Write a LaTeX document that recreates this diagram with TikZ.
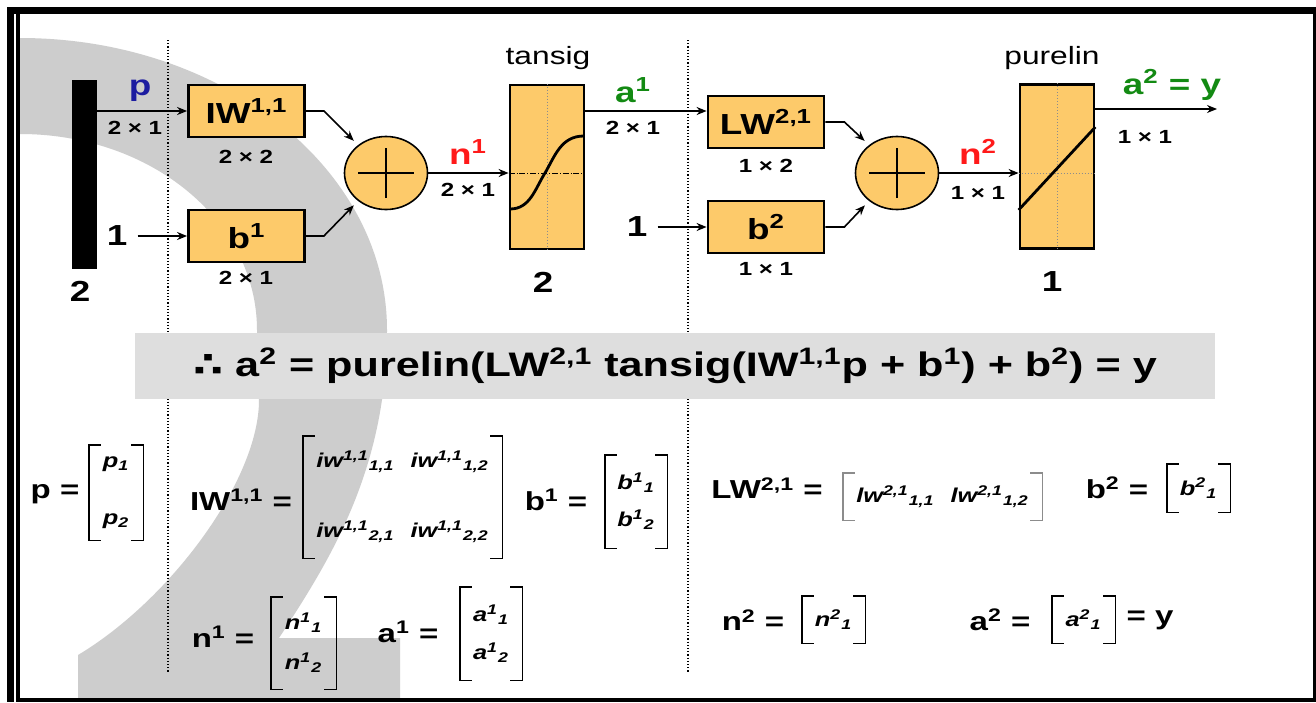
\documentclass[tikz,border=0pt]{standalone}
\usepackage{fontspec}
\setmainfont[FakeStretch=1.27]{Liberation Sans}
\newfontfamily\dejavu[FakeStretch=1.27]{DejaVu Sans}
\usepackage{tikz}
\usetikzlibrary{positioning,arrows.meta,calc,shapes.geometric}
\definecolor{boxgold}{HTML}{FDCA6A}
\definecolor{pblue}{HTML}{1C1CA0}
\definecolor{nred}{HTML}{FF1A1A}
\definecolor{agreen}{HTML}{138A13}
\definecolor{bandgray}{HTML}{DEDEDE}
\definecolor{wmgray}{HTML}{CDCDCD}
\tikzset{
    every node/.style={font=\bfseries},
    wbox/.style={draw,line width=1.4pt,fill=boxgold,minimum width=58pt,minimum height=26pt,inner sep=0pt,font=\bfseries\fontsize{14.5}{16}\selectfont},
    tfbox/.style={draw,line width=1.4pt,fill=boxgold,minimum width=37pt,minimum height=82pt,inner sep=0pt},
    sumnode/.style={ellipse,draw,line width=0.8pt,fill=boxgold,minimum width=41.5pt,minimum height=36.5pt,inner sep=0pt},
    dimlbl/.style={inner sep=0pt,font=\bfseries\fontsize{9.5}{11}\selectfont},
    siglbl/.style={inner sep=0pt,font=\bfseries\fontsize{14.5}{17}\selectfont},
    fnlbl/.style={inner sep=0pt,font=\fontsize{12.5}{15}\selectfont},
    eqlbl/.style={inner sep=0pt,font=\bfseries\fontsize{13}{15}\selectfont},
    mat/.style n args={3}{minimum width=#1,minimum height=#2,inner sep=0pt,align=center,font=\bfseries\itshape\fontsize{10}{#3}\selectfont},
    brk/.style={line width=0.9pt},
    arr/.style={-{Stealth[length=5pt,width=4pt]},line width=0.8pt},
    sep/.style={densely dotted,line width=0.6pt},
    guide/.style={densely dotted,line width=0.5pt,black!45}
}

\begin{document}
\begin{tikzpicture}[
x=0.5pt,y=-0.5pt,
band/.style={fill=bandgray,minimum width=540pt,minimum height=33pt,inner sep=0pt,font=\bfseries\fontsize{17}{20}\selectfont}
]
\useasboundingbox (0,0) rectangle (1316,702);
\fill[white] (0,0) rectangle (1316,702);
\fill[wmgray] (20,38) .. controls (223,38) and (387,169) .. (387,330)
    .. controls (387,470) and (330,560) .. (279,638) -- (400,638) -- (400,700) -- (78,700) -- (78,655)
    .. controls (170,600) and (259,480) .. (259,400) -- (257,330)
    .. controls (257,222) and (152,134) .. (20,134) -- cycle;
\draw[sep] (168,40) -- (168,672);
\draw[sep] (688,40) -- (688,672);

\node[fill=black,minimum width=12.5pt,minimum height=94.5pt,inner sep=0pt] (pin) at (84.5,174.5) {};
\node[siglbl] (pn) at (80,291) {2};
\node[siglbl,text=pblue] (plbl) at (140,91) {p};
\node[dimlbl] (pdim) at (135,128) {2 × 1};
\node[siglbl] (one1) at (117,236) {1};

\node[wbox] (iw) at (246.5,111) {IW\textsuperscript{1,1}};
\node[wbox] (b1) at (246.5,236) {b\textsuperscript{1}};
\node[dimlbl] (iwdim) at (246,157) {2 × 2};
\node[dimlbl] (b1dim) at (246,278) {2 × 1};
\node[sumnode] (sum1) at (386,173) {};
\node[siglbl,text=nred] (n1lbl) at (468,152) {n\textsuperscript{1}};
\node[dimlbl] (n1dim) at (468,190) {2 × 1};

\node[tfbox] (tansig) at (547,167) {};
\node[fnlbl] (tansiglbl) at (548,58) {tansig};
\node[siglbl] (tansign) at (543,282) {2};
\node[siglbl,text=agreen] (a1lbl) at (633,90) {a\textsuperscript{1}};
\node[dimlbl] (a1dim) at (633,128) {2 × 1};
\node[siglbl] (one2) at (637,227) {1};

\node[wbox] (lw) at (766,122) {LW\textsuperscript{2,1}};
\node[wbox] (b2) at (766,227) {b\textsuperscript{2}};
\node[dimlbl] (lwdim) at (766,166) {1 × 2};
\node[dimlbl] (b2dim) at (766,269) {1 × 1};
\node[sumnode] (sum2) at (897,173) {};
\node[siglbl,text=nred] (n2lbl) at (978,152) {n\textsuperscript{2}};
\node[dimlbl] (n2dim) at (978,193) {1 × 1};

\node[tfbox] (purelin) at (1057,166.5) {};
\node[fnlbl] (purelinlbl) at (1052,58) {purelin};
\node[siglbl] (purelinn) at (1052,282) {1};
\node[siglbl,text=agreen] (a2lbl) at (1172,85) {a\textsuperscript{2} = y};
\node[dimlbl] (a2dim) at (1145,137) {1 × 1};

\foreach \s in {sum1,sum2} {
    \draw[line width=1pt] ([xshift=-14pt]\s.center) -- ([xshift=14pt]\s.center);
    \draw[line width=1pt] ([yshift=-12.5pt]\s.center) -- ([yshift=12.5pt]\s.center);
}
\draw[guide] (tansig.north) -- (tansig.south);
\draw[densely dashdotted,line width=0.5pt] (tansig.west |- sum1.center) -- (tansig.east |- sum1.center);
\draw[guide] (purelin.north) -- (purelin.south);
\draw[guide] (purelin.west |- sum2.center) -- (purelin.east |- sum2.center);
\begin{scope}[shift={(tansig.center)}]
\draw[line width=1.4pt] (-37,42) .. controls (-17,42) and (-12,22) .. (-2,6) .. controls (8,-11) and (14,-31) .. (37,-31);
\end{scope}
\draw[line width=1.4pt] ([yshift=-21.75pt]purelin.west) -- ([yshift=19.75pt]purelin.east);

\coordinate (a1in) at ([yshift=5.5pt]lw.west);
\coordinate (yout) at (1217,109);
\draw[arr] (pin.east |- iw.west) -- (iw.west);
\draw[arr] ([xshift=5pt]one1.east) -- (b1.west);
\draw[arr,shorten >=3pt] (iw.east) -- ++(9pt,0) -- (sum1.135);
\draw[arr,shorten >=3pt] (b1.east) -- ++(9pt,0) -- (sum1.225);
\draw[arr] (sum1.east) -- (sum1.east -| tansig.west);
\draw[arr] (tansig.east |- a1in) -- (a1in);
\draw[arr] ([xshift=5pt]one2.east) -- (b2.west);
\draw[arr,shorten >=3pt] (lw.east) -- ++(9.5pt,0) -- (sum2.135);
\draw[arr,shorten >=3pt] (b2.east) -- ++(9.5pt,0) -- (sum2.225);
\draw[arr] (sum2.east) -- (sum2.east -| purelin.west);
\draw[arr] (purelin.east |- yout) -- (yout);

\node[band] (eqn) at (675,366) {{\dejavu ∴} a\textsuperscript{2} = purelin(LW\textsuperscript{2,1} tansig(IW\textsuperscript{1,1}p + b\textsuperscript{1}) + b\textsuperscript{2}) = y};

\node[eqlbl] (peq) at (55,494) {p =};
\node[mat={27pt}{47.5pt}{28.5pt}] (pmat) at (116,492.5) {p\textsubscript{1}\\p\textsubscript{2}};
\node[eqlbl] (iweq) at (241,500) {IW\textsuperscript{1,1} =};
\node[mat={99.5pt}{61pt}{35pt}] (iwmat) at (402.5,497) {iw\textsuperscript{1,1}\textsubscript{1,1}\hspace{8pt}iw\textsuperscript{1,1}\textsubscript{1,2}\\iw\textsuperscript{1,1}\textsubscript{2,1}\hspace{8pt}iw\textsuperscript{1,1}\textsubscript{2,2}};
\node[eqlbl] (b1eq) at (556,500) {b\textsuperscript{1} =};
\node[mat={31pt}{46.5pt}{18.5pt}] (b1mat) at (636,501.5) {b\textsuperscript{1}\textsubscript{1}\\b\textsuperscript{1}\textsubscript{2}};
\node[eqlbl] (n1eq) at (223,637) {n\textsuperscript{1} =};
\node[mat={32.5pt}{46pt}{20pt}] (n1mat) at (303.5,643) {n\textsuperscript{1}\textsubscript{1}\\n\textsuperscript{1}\textsubscript{2}};
\node[eqlbl] (a1eq) at (408,632) {a\textsuperscript{1} =};
\node[mat={31pt}{46.5pt}{19pt}] (a1mat) at (491,633.5) {a\textsuperscript{1}\textsubscript{1}\\a\textsuperscript{1}\textsubscript{2}};

\node[eqlbl] (lweq) at (767,488) {LW\textsuperscript{2,1} =};
\node[mat={99.5pt}{23.5pt}{11pt}] (lwmat) at (942.5,496.5) {lw\textsuperscript{2,1}\textsubscript{1,1}\hspace{8pt}lw\textsuperscript{2,1}\textsubscript{1,2}};
\node[eqlbl] (b2eq) at (1117,488) {b\textsuperscript{2} =};
\node[mat={31.5pt}{24pt}{11pt}] (b2mat) at (1198.5,488) {b\textsuperscript{2}\textsubscript{1}};
\node[eqlbl] (n2eq) at (753,620) {n\textsuperscript{2} =};
\node[mat={31.5pt}{23.5pt}{11pt}] (n2mat) at (833.5,619.5) {n\textsuperscript{2}\textsubscript{1}};
\node[eqlbl] (a2eq) at (1000,620) {a\textsuperscript{2} =};
\node[mat={31.5pt}{23.5pt}{11pt}] (a2mat) at (1083.5,619.5) {a\textsuperscript{2}\textsubscript{1}};
\node[eqlbl] (a2y) at (1150,620) {= y};

\foreach \m in {pmat,iwmat,b1mat,n1mat,a1mat,b2mat,n2mat,a2mat} {
    \draw[brk] ([xshift=6pt]\m.north west) -- (\m.north west) -- (\m.south west) -- ([xshift=6pt]\m.south west);
    \draw[brk] ([xshift=-6pt]\m.north east) -- (\m.north east) -- (\m.south east) -- ([xshift=-6pt]\m.south east);
}
\draw[brk,black!45] ([xshift=6pt]lwmat.north west) -- (lwmat.north west) -- (lwmat.south west) -- ([xshift=6pt]lwmat.south west);
\draw[brk,black!45] ([xshift=-6pt]lwmat.north east) -- (lwmat.north east) -- (lwmat.south east) -- ([xshift=-6pt]lwmat.south east);

\fill (7,7) rectangle (14,702);
\fill (7,7) rectangle (1316,14);
\draw[line width=1.6pt] (18,14) -- (18,700) -- (1314.5,700) -- (1314.5,14);
\end{tikzpicture}
\end{document}
